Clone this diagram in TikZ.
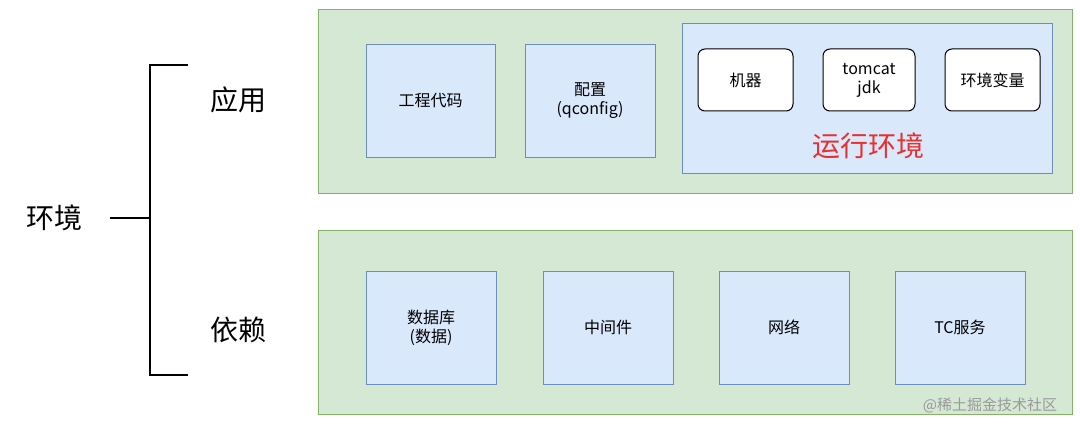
\documentclass[tikz,border=0pt]{standalone}
\usepackage{fontspec}
\setmainfont{Noto Sans CJK SC}
\usepackage{tikz}
\usetikzlibrary{positioning}
\definecolor{grpfill}{HTML}{D5E8D4}
\definecolor{grpline}{HTML}{82B366}
\definecolor{boxfill}{HTML}{DAE8FC}
\definecolor{boxline}{HTML}{6C8EBF}
\definecolor{envred}{HTML}{E8302E}
\tikzset{
  group/.style={draw=grpline, fill=grpfill, line width=1pt},
  part/.style={draw=boxline, fill=boxfill, line width=1pt, align=center, font=\fontsize{16}{19}\selectfont},
  item/.style={draw=black, fill=white, rounded corners=7pt, line width=1pt, align=center, font=\fontsize{16}{19}\selectfont},
  title/.style={font=\fontsize{28}{32}\selectfont}
}
\begin{document}
\begin{tikzpicture}[x=1pt,y=-1pt]
  \useasboundingbox (0,0) rectangle (1080,428);

  % left bracket
  \node[title] (env) at (55,218) {环境};
  \coordinate (top) at (150,65);
  \coordinate (bot) at (150,375);
  \coordinate (mid) at (150,218);
  \coordinate (midl) at (110,218);
  \draw[line width=2pt] (188,65) -- (top) -- (bot) -- (188,375);
  \draw[line width=2pt] (midl) -- (mid);
  \node[title] (app) at (238,100) {应用};
  \node[title] (dep) at (238,330) {依赖};

  % application group
  \draw[group] (318,10) rectangle (1072,193);
  \node[part, minimum width=129pt, minimum height=112pt] (code) at (430.5,101) {工程代码};
  \node[part, minimum width=130pt, minimum height=112pt] (conf) at (590,101) {配置\\(qconfig)};
  \node[part, minimum width=370pt, minimum height=149pt] (run) at (867,98.5) {};
  \node[item, minimum width=95pt, minimum height=62pt] (mach) at (745.5,80) {机器};
  \node[item, minimum width=92pt, minimum height=62pt] (tom) at (869,80) {tomcat\\jdk};
  \node[item, minimum width=95pt, minimum height=62pt] (var) at (992.5,80) {环境变量};
  \node[title, text=envred] (runlbl) at (868,146) {运行环境};

  % dependency group
  \draw[group] (318,230) rectangle (1072,414);
  \node[part, minimum width=130pt, minimum height=113pt] (db) at (431,327.5) {数据库\\(数据)};
  \node[part, minimum width=130pt, minimum height=113pt] (mw) at (608,327.5) {中间件};
  \node[part, minimum width=130pt, minimum height=113pt] (net) at (784,327.5) {网络};
  \node[part, minimum width=130pt, minimum height=113pt] (tc) at (960,327.5) {TC服务};

  % watermark
  \node[text=gray!80, font=\fontsize{15}{18}\selectfont] (mark) at (990,405) {@稀土掘金技术社区};
\end{tikzpicture}
\end{document}
